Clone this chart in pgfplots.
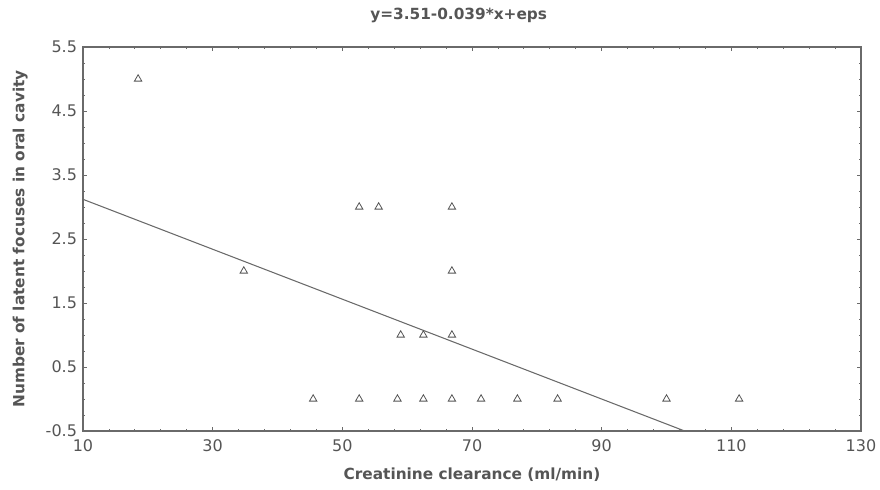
\documentclass[border=0pt]{standalone}
\usepackage{pgfplots}
\pgfplotsset{compat=1.18}
\usepackage{fontspec}
\setmainfont{DejaVu Sans}
\definecolor{txt}{HTML}{555555}
\definecolor{ln}{HTML}{6A6A6A}
\begin{document}
\begin{tikzpicture}
\begin{axis}[
    scale only axis,
    width=583.5pt, height=288pt,
    xmin=10, xmax=130, ymin=-0.5, ymax=5.5,
    xtick={10,30,...,130},
    ytick={-0.5,0.5,...,5.5},
    minor x tick num=4,
    minor y tick num=3,
    tick align=inside,
    major tick length=3pt,
    minor tick length=1.8pt,
    axis line style={draw=ln, line width=0.9pt},
    every tick/.style={draw=ln, line width=0.6pt},
    /pgf/number format/assume math mode=true,
    /pgf/number format/fixed,
    /pgf/number format/precision=1,
    ticklabel style={font=\fontsize{12}{14}\selectfont, text=txt},
    yticklabel style={/pgf/number format/fixed zerofill, xshift=-1pt},
    xticklabel style={yshift=-3pt},
    xlabel={\textbf{Creatinine clearance (ml/min)}},
    ylabel={\textbf{Number of latent focuses in oral cavity}},
    label style={font=\fontsize{11.5}{13}\selectfont, text=txt},
    xlabel style={at={(axis description cs:0.5,-0.115)}, anchor=center},
    ylabel style={at={(axis description cs:-0.0806,0.5)}, anchor=center, rotate=0},
    title={\textbf{y=3.51-0.039*x+eps}},
    title style={font=\fontsize{11.5}{13}\selectfont, text=txt,
      at={(axis description cs:0.5,1.062)}, anchor=center, xshift=-10pt},
]
\addplot[only marks, mark=triangle, mark size=3.2pt, mark options={draw=txt, line width=0.6pt}]
coordinates {
 (18.5,5) (34.8,2) (52.6,3) (55.6,3) (66.9,3) (66.9,2)
 (59,1) (62.5,1) (66.9,1)
 (45.5,0) (52.6,0) (58.5,0) (62.5,0) (66.9,0) (71.4,0)
 (77,0) (83.2,0) (100,0) (111.2,0)
};
\addplot[draw=ln, line width=0.8pt] coordinates {(10,3.12) (102.8,-0.5)};
\end{axis}
\pgfresetboundingbox
\path (current axis.south west) ++(-62.25pt,-43.5pt) coordinate (bl);
\path (current axis.north east) ++(14.25pt,35.25pt) coordinate (tr);
\useasboundingbox (bl) rectangle (tr);
\end{tikzpicture}
\end{document}
